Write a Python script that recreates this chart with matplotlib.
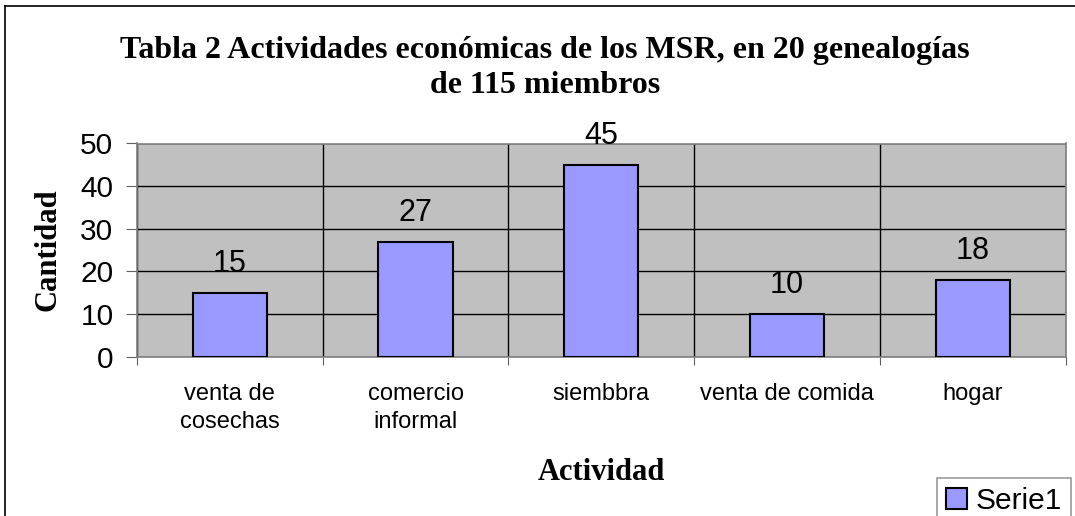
import matplotlib.pyplot as plt
import numpy as np
from matplotlib.lines import Line2D

categories = ["venta de\ncosechas", "comercio\ninformal", "siembbra", "venta de comida", "hogar"]
values = [15, 27, 45, 10, 18]
series_name = "Serie1"
title = "Tabla 2 Actividades económicas de los MSR, en 20 genealogías\nde 115 miembros"
y_ticks = [0, 10, 20, 30, 40, 50]

W, H = 1075, 516
fig = plt.figure(figsize=(W / 100, H / 100), dpi=100)
ax = fig.add_axes([137 / W, (H - 356.7) / H, (1065.5 - 137) / W, (356.7 - 143.5) / H])
ax.set_facecolor("#c0c0c0")

x = np.arange(len(categories))
bars = ax.bar(x, values, width=0.4, color="#9999ff", edgecolor="black", linewidth=1.5,
              zorder=3, label=series_name)

for xi, v in zip(x, values):
    ax.annotate(str(v), (xi, v), xytext=(0, 10), textcoords="offset points",
                ha="center", va="bottom", fontsize=22, family="Liberation Sans")

ax.set_xlim(-0.5, len(categories) - 0.5)
ax.set_ylim(0, 50)
ax.set_yticks(y_ticks)
ax.set_yticklabels([str(t) for t in y_ticks], fontsize=21.5, family="Liberation Sans")
ax.set_xticks(np.arange(len(categories) + 1) - 0.5)
ax.set_xticklabels([])
ax.set_xticks(x, minor=True)
ax.set_xticklabels(categories, minor=True, fontsize=17, family="Liberation Sans",
                   linespacing=1.35)
ax.tick_params(axis="x", which="minor", length=0, pad=19)
ax.tick_params(axis="x", which="major", length=6, color="#606060")
ax.tick_params(axis="y", length=8, color="#606060", pad=9)

ax.grid(True, axis="y", color="black", linewidth=1, zorder=1)
ax.grid(True, axis="x", which="major", color="black", linewidth=1, zorder=1)
for s in ax.spines.values():
    s.set_color("#808080")
    s.set_linewidth(1.2)

ax.set_ylabel("Cantidad", fontsize=22, fontweight="bold", family="Liberation Serif", labelpad=13)
ax.set_xlabel("Actividad", fontsize=22, fontweight="bold", family="Liberation Serif", labelpad=18)

fig.text(545 / W, 1 - 68 / H, title, ha="center", va="center", fontsize=23,
         fontweight="bold", family="Liberation Serif", linespacing=1.3)

leg = fig.legend(handles=[bars], loc="lower left", bbox_to_anchor=(937 / W, -0.015),
                 prop={"family": "Liberation Sans", "size": 21.5}, frameon=True,
                 fancybox=False, edgecolor="#808080", handlelength=0.7, handleheight=0.7,
                 handletextpad=0.3, borderpad=0.3, borderaxespad=0)
leg.get_frame().set_linewidth(1.2)

fig.add_artist(Line2D([5.5 / W, 5.5 / W], [0, 1 - 5.5 / H], color="black", linewidth=1.2,
                      transform=fig.transFigure))
fig.add_artist(Line2D([5.5 / W, 1], [1 - 5.5 / H, 1 - 5.5 / H], color="black", linewidth=1.2,
                      transform=fig.transFigure))

fig.savefig("out.png", dpi=100)
